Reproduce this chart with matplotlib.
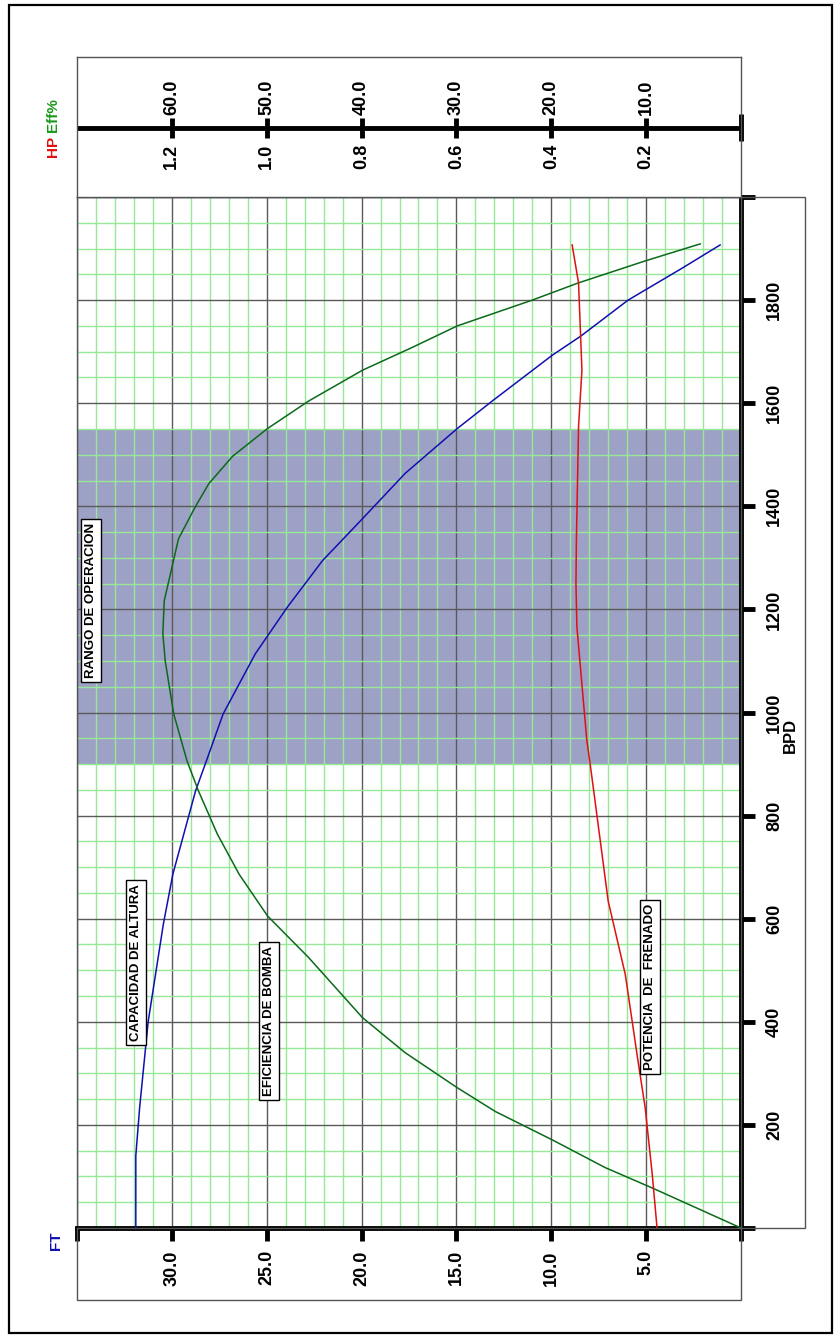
import matplotlib
matplotlib.use("Agg")
import matplotlib.pyplot as plt
from matplotlib.patches import Rectangle
import numpy as np

plt.rcParams["font.family"] = ["Liberation Sans Narrow", "Liberation Sans", "DejaVu Sans"]
plt.rcParams["font.weight"] = "bold"

# ---- data (BPD along the long axis) ----
head_bpd = [0, 140, 233, 400, 589, 686, 848, 904, 997, 1114, 1205, 1295, 1347,
            1376, 1464, 1551, 1606, 1693, 1730, 1800, 1862, 1907]
head_ft = [31.9, 31.9, 31.7, 31.25, 30.45, 29.95, 28.75, 28.2, 27.3, 25.6, 23.9,
           22.05, 20.7, 19.95, 17.7, 14.95, 13.05, 9.95, 8.45, 5.95, 3.1, 1.1]

eff_bpd = [0, 78, 117, 171, 226, 272, 340, 408, 525, 605, 686, 764, 848, 906, 997,
           1100, 1153, 1217, 1337, 1400, 1444, 1497, 1551, 1604, 1664, 1707, 1750,
           1800, 1833, 1876, 1909]
eff_pct = [0, 9.4, 14.3, 19.9, 25.9, 29.9, 35.4, 39.9, 45.6, 49.9, 52.9, 55.2, 57.2,
           58.4, 59.8, 60.7, 60.95, 60.8, 59.3, 57.5, 56.1, 53.6, 49.9, 45.6, 39.9,
           34.8, 29.9, 22.0, 17.2, 10.1, 4.3]

hp_bpd = [0, 103, 233, 323, 492, 634, 676, 900, 945, 1166, 1250, 1337, 1555, 1664,
          1833, 1907]
hp_val = [0.177, 0.187, 0.202, 0.217, 0.244, 0.280, 0.286, 0.318, 0.325, 0.346,
          0.348, 0.347, 0.3425, 0.3354, 0.3425, 0.356]

range_bpd = [900, 1550]

ft_ticks = [0, 5, 10, 15, 20, 25, 30, 35]
ft_labels = ["", "5.0", "10.0", "15.0", "20.0", "25.0", "30.0", ""]
bpd_ticks = [0, 200, 400, 600, 800, 1000, 1200, 1400, 1600, 1800, 2000]
bpd_labels = ["", "200", "400", "600", "800", "1000", "1200", "1400", "1600", "1800", ""]
eff_ticks = [60, 50, 40, 30, 20, 10]
hp_ticks = [1.2, 1.0, 0.8, 0.6, 0.4, 0.2]

FT_MAX, EFF_MAX, HP_MAX, BPD_MAX = 35, 70, 1.4, 2000

labels = [("CAPACIDAD DE ALTURA", 31.9, 515),
          ("EFICIENCIA DE BOMBA", 24.87, 402),
          ("POTENCIA  DE  FRENADO", 4.79, 468),
          ("RANGO DE OPERACION", 34.24, 1217)]

BLUE, GREEN, RED = "#1010b0", "#0a6a1a", "#e01010"
SHADE = "#9ea1c6"
GRID_MINOR = "#97e897"
GRID_MAJOR = "#5a5a5a"
EDGE = "#555555"

W, H = 839, 1338
fig = plt.figure(figsize=(W / 100, H / 100), dpi=100)


def rect(x0, y0, x1, y1):
    return [x0 / W, 1 - y1 / H, (x1 - x0) / W, (y1 - y0) / H]


def box(x0, y0, x1, y1, lw=1.0, ec=EDGE):
    fig.patches.append(Rectangle((x0 / W, 1 - y1 / H), (x1 - x0) / W, (y1 - y0) / H,
                                 transform=fig.transFigure, fill=False, ec=ec, lw=lw))


# outer frame and side boxes
box(9, 5, 832, 1333, lw=1.6, ec="black")
box(741, 197, 805, 1228)
box(77, 1228, 741, 1300)

# ---- main plot (head in FT) ----
main_rect = rect(77, 197, 741, 1228)
ax = fig.add_axes(main_rect)
ax.set_xlim(FT_MAX, 0)
ax.set_ylim(0, BPD_MAX)
ax.axhspan(range_bpd[0], range_bpd[1], color=SHADE, lw=0, zorder=0)
ax.set_axisbelow(True)
ax.set_xticks(ft_ticks, ft_labels)
ax.set_xticks(np.arange(0, FT_MAX, 1), minor=True)
ax.set_yticks(bpd_ticks, bpd_labels)
ax.set_yticks(np.arange(0, BPD_MAX, 50), minor=True)
ax.grid(which="minor", color=GRID_MINOR, lw=1)
ax.grid(which="major", color=GRID_MAJOR, lw=1)
ax.yaxis.tick_right()
ax.tick_params(which="minor", length=0)
ax.tick_params(axis="x", which="major", direction="out", length=9, width=3.5,
               pad=7, labelrotation=90, labelsize=13)
ax.tick_params(axis="y", which="major", direction="out", length=10, width=3.5,
               pad=8, labelrotation=90, labelsize=13)
for lab in ax.get_yticklabels():
    lab.set_va("center")
for side in ("left", "top"):
    ax.spines[side].set_color(EDGE)
    ax.spines[side].set_linewidth(1)
for side in ("right", "bottom"):
    ax.spines[side].set_color("black")
    ax.spines[side].set_linewidth(3.5)
ax.plot(head_ft, head_bpd, color=BLUE, lw=1.1, zorder=3)

# efficiency and horsepower share the same frame with their own x scales
ax_eff = fig.add_axes(main_rect, frameon=False)
ax_eff.set_xlim(EFF_MAX, 0)
ax_eff.set_ylim(0, BPD_MAX)
ax_eff.axis("off")
ax_eff.plot(eff_pct, eff_bpd, color=GREEN, lw=1.1)

ax_hp = fig.add_axes(main_rect, frameon=False)
ax_hp.set_xlim(HP_MAX, 0)
ax_hp.set_ylim(0, BPD_MAX)
ax_hp.axis("off")
ax_hp.plot(hp_val, hp_bpd, color=RED, lw=1.1)

for txt, fx, fy in labels:
    ax_hp.text(fx, fy, txt, transform=ax.transData, rotation=90, ha="center",
               va="center", fontsize=9.5, fontweight="bold", zorder=5,
               bbox=dict(boxstyle="square,pad=0.3", fc="white", ec="black", lw=1))

# ---- top scale box (HP / Eff%) ----
top_rect = rect(77, 57, 741, 197)
ax_top = fig.add_axes(top_rect)
ax_top.set_xlim(EFF_MAX, 0)
ax_top.set_ylim(0, 1)
ax_top.set_xticks([])
ax_top.set_yticks([])
for s in ax_top.spines.values():
    s.set_color(EDGE)
    s.set_linewidth(1)
ax_top.axhline(0.493, color="black", lw=3.5)
ax_top.vlines(eff_ticks, 0.421, 0.564, color="black", lw=3.5)
ax_top.vlines([0], 0.40, 0.59, color="black", lw=3.5, clip_on=False)
for v in eff_ticks:
    ax_top.text(v, 0.714, f"{v:.1f}", rotation=90, ha="center", va="center",
                fontsize=13, fontweight="bold")

ax_top_hp = fig.add_axes(top_rect, frameon=False)
ax_top_hp.set_xlim(HP_MAX, 0)
ax_top_hp.set_ylim(0, 1)
ax_top_hp.axis("off")
for v in hp_ticks:
    ax_top_hp.text(v, 0.293, f"{v:.1f}", rotation=90, ha="center", va="center",
                   fontsize=13, fontweight="bold")

# axis titles
fig.text(53 / W, 1 - 146 / H, "HP", color=RED, rotation=90, ha="center",
         va="center", fontsize=11, fontweight="bold")
fig.text(53 / W, 1 - 115 / H, "Eff%", color="#1a9a1a", rotation=90, ha="center",
         va="center", fontsize=11, fontweight="bold")
fig.text(56 / W, 1 - 1241 / H, "FT", color=BLUE, rotation=90, ha="center",
         va="center", fontsize=11, fontweight="bold")
fig.text(790 / W, 1 - 735 / H, "BPD", rotation=90, ha="center", va="center",
         fontsize=12, fontweight="bold")

fig.savefig("out.png", dpi=100)
